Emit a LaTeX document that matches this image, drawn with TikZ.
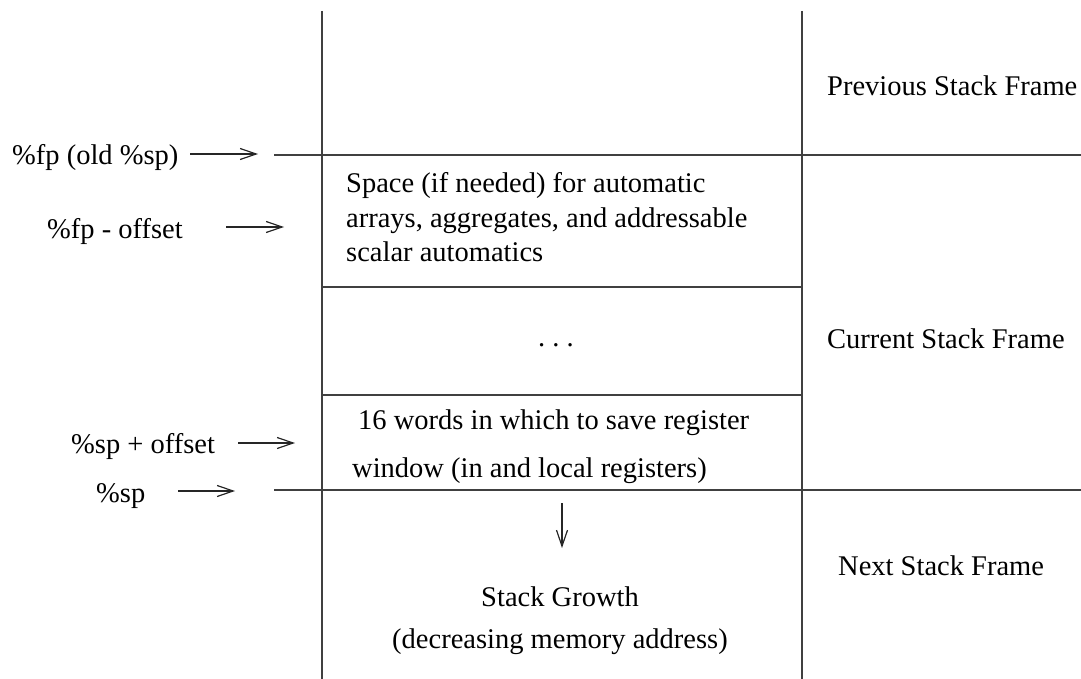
\documentclass[tikz,border=0pt]{standalone}
\usepackage{fontspec}
\setmainfont{Liberation Serif}
\usetikzlibrary{arrows.meta}
\begin{document}
\begin{tikzpicture}[x=1pt,y=-1pt,
  frame/.style={line width=1.6pt, draw=black!75},
  ptr/.style={line width=1.2pt, draw=black!85,
    -{Straight Barb[length=16pt,width=11pt,line width=1.2pt]}},
  lbl/.style={inner sep=0pt, anchor=base west, font=\fontsize{28.5}{33}\selectfont},
  clbl/.style={lbl, anchor=base},
]
\useasboundingbox (0,0) rectangle (1081,679);

% stack frame outline
\draw[frame] (322,11) -- (322,679);
\draw[frame] (802,11) -- (802,679);
\draw[frame] (274,155) -- (1081,155);
\draw[frame] (322,287) -- (802,287);
\draw[frame] (322,395) -- (802,395);
\draw[frame] (274,490) -- (1081,490);

% frame names
\node[lbl] (prev) at (827,96) {Previous Stack Frame};
\node[lbl] (cur)  at (827,348) {Current Stack Frame};
\node[lbl] (next) at (838,575) {Next Stack Frame};

% contents of the current frame
\node[lbl] (auto1) at (346,193) {Space (if needed) for automatic};
\node[lbl] (auto2) at (346,227) {arrays, aggregates, and addressable};
\node[lbl] (auto3) at (346,261) {scalar automatics};
\node[clbl] (dots) at (556,346) {.\ .\ .};
\node[lbl] (save1) at (358,429) {16 words in which to save register};
\node[lbl] (save2) at (352,477) {window (in and local registers)};

% growth direction
\node[clbl] (grow1) at (560,606) {Stack Growth};
\node[clbl] (grow2) at (560,648) {(decreasing memory address)};
\coordinate (gtop) at (562,503);
\coordinate (gbot) at (562,548);
\draw[ptr] (gtop) -- (gbot);

% register pointers
\node[lbl] (fpold) at (12,165) {\%fp (old \%sp)};
\node[lbl] (fpoff) at (47,238) {\%fp - offset};
\node[lbl] (spoff) at (71,453) {\%sp + offset};
\node[lbl] (sp)    at (96,502) {\%sp};

\coordinate (fpoldA) at (190,154); \coordinate (fpoldB) at (258,154);
\coordinate (fpoffA) at (226,227); \coordinate (fpoffB) at (284,227);
\coordinate (spoffA) at (238,443); \coordinate (spoffB) at (295,443);
\coordinate (spA)    at (178,491); \coordinate (spB)    at (235,491);

\draw[ptr] (fpoldA) -- (fpoldB);
\draw[ptr] (fpoffA) -- (fpoffB);
\draw[ptr] (spoffA) -- (spoffB);
\draw[ptr] (spA) -- (spB);
\end{tikzpicture}
\end{document}
